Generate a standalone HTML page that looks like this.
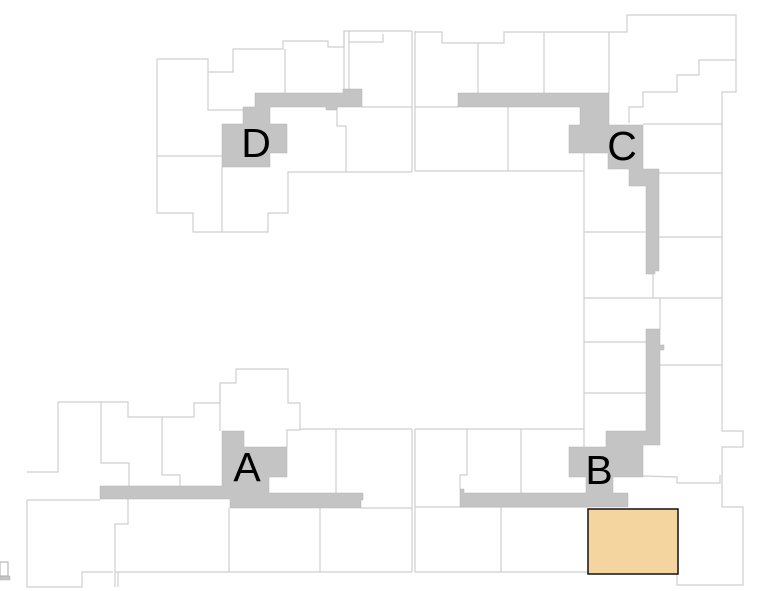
<!DOCTYPE html>
<html><head><meta charset="utf-8"><style>
html,body{margin:0;padding:0;background:#fff;}
svg{display:block}
text{font-family:"Liberation Sans",sans-serif;font-size:41px;fill:#000;}
</style></head><body>
<svg width="759" height="591" viewBox="0 0 759 591" xmlns="http://www.w3.org/2000/svg">
<g fill="none" stroke="#cfcfcf" stroke-width="1.2">
<!-- D quadrant -->
<polyline points="157,59 208,59 208,110 243,110"/>
<polyline points="157,59 157,213 193,213 193,232 268,232 268,213 288,213 288,172 412,172"/>
<line x1="157" y1="156" x2="222" y2="156"/>
<line x1="222" y1="167" x2="222" y2="232"/>
<polyline points="208,72 233,72 233,49 283,49 283,41 328,41 328,47 344,47 344,31 412,31"/>
<line x1="344" y1="31" x2="344" y2="89"/>
<line x1="349" y1="31" x2="349" y2="89"/>
<polyline points="349,42 383,42 383,34"/>
<line x1="285" y1="49" x2="285" y2="93"/>
<line x1="362" y1="107" x2="412" y2="107"/>
<polyline points="337,107 337,126 346,126 346,172"/>
<line x1="412" y1="31" x2="412" y2="172"/>
<line x1="415" y1="31" x2="415" y2="171"/>
<line x1="412" y1="429" x2="412" y2="572"/>
<line x1="415" y1="429" x2="415" y2="572"/>
<!-- C quadrant -->
<polyline points="415,32 442,32 442,43 504,43 504,32 627,32 627,15 736,15 736,92 722,92 722,431 743,431 743,447 722,447 722,507 743,507 743,585 677,585 677,574"/>
<line x1="478" y1="43" x2="478" y2="93"/>
<line x1="544" y1="32" x2="544" y2="93"/>
<line x1="609" y1="32" x2="609" y2="93"/>
<polyline points="629,123 629,107 643,107 643,92 677,92 677,75 699,75 699,60 736,60"/>
<line x1="415" y1="107" x2="458" y2="107"/>
<line x1="415" y1="171" x2="584" y2="171"/>
<line x1="508" y1="107" x2="508" y2="171"/>
<line x1="584" y1="153" x2="584" y2="429"/>
<line x1="643" y1="124" x2="722" y2="124"/>
<line x1="659" y1="173" x2="722" y2="173"/>
<line x1="659" y1="237" x2="722" y2="237"/>
<line x1="584" y1="232" x2="646" y2="232"/>
<line x1="584" y1="298" x2="722" y2="298"/>
<line x1="653" y1="271" x2="653" y2="298"/>
<line x1="660" y1="298" x2="660" y2="329"/>
<!-- B quadrant -->
<line x1="584" y1="342" x2="646" y2="342"/>
<line x1="584" y1="393" x2="646" y2="393"/>
<line x1="660" y1="365" x2="722" y2="365"/>
<line x1="415" y1="429" x2="584" y2="429"/>
<line x1="584" y1="429" x2="584" y2="447"/>
<polyline points="467,429 467,475 460,475 460,489"/>
<line x1="521" y1="429" x2="521" y2="493"/>
<line x1="415" y1="507" x2="588" y2="507"/>
<line x1="501" y1="507" x2="501" y2="572"/>
<line x1="415" y1="572" x2="588" y2="572"/>
<polyline points="643,476 677,477 677,483 720,483 720,475"/>
<!-- A quadrant -->
<polyline points="27,500 27,587 82,587 82,572 113,572"/>
<polyline points="27,472 58,472 58,402 101,402 101,463 129,463 129,486"/>
<polyline points="101,402 128,402 128,417 162,417 162,475 180,475 180,486"/>
<polyline points="162,417 194,417 194,403 220,403 220,383 236,383 236,369 288,369 288,403 300,403 300,430 287,430 287,447"/>
<line x1="220" y1="383" x2="220" y2="431"/>
<line x1="300" y1="429" x2="412" y2="429"/>
<line x1="336" y1="429" x2="336" y2="493"/>
<line x1="27" y1="500" x2="100" y2="500"/>
<line x1="361" y1="508" x2="412" y2="508"/>
<line x1="115" y1="572" x2="412" y2="572"/>
<line x1="229" y1="508" x2="229" y2="572"/>
<line x1="320" y1="508" x2="320" y2="572"/>
<polyline points="128,499 128,524 115,524 115,587"/>
<line x1="118" y1="572" x2="118" y2="587"/>
</g>
<g fill="#c4c4c4" stroke="#b4b4b4" stroke-width="0.5">
<polygon points="255,93 343,93 343,89 362,89 362,107 337,107 337,110 326,110 326,107 270,107 270,124 287,124 287,153 270,153 270,167 222,167 222,124 243,124 243,107 255,107"/>
<polygon points="458,93 609,93 609,125 643,125 643,169 659,169 659,271 655,271 655,274 646,274 646,186 629,186 629,169 608,169 608,153 569,153 569,125 580,125 580,107 458,107"/>
<polygon points="646,329 660,329 660,345 664,345 664,350 660,350 660,445 643,445 643,477 613,477 613,493 628,493 628,507 460,507 460,489 464,489 464,493 586,493 586,477 569,477 569,447 606,447 606,431 646,431"/>
<polygon points="222,431 244,431 244,447 287,447 287,477 269,477 269,493 363,493 363,500 361,500 361,508 230,508 230,499 100,499 100,486 222,486"/>
<rect x="0" y="576" width="10" height="4"/>
</g>
<rect x="0" y="562" width="8" height="14" fill="none" stroke="#aaa" stroke-width="1"/>
<rect x="588" y="509" width="90" height="65" fill="#f5d59f" stroke="#111" stroke-width="1.5"/>
<text x="256" y="157" text-anchor="middle">D</text>
<text x="622" y="160" text-anchor="middle">C</text>
<text x="599" y="484" text-anchor="middle">B</text>
<text x="247" y="481" text-anchor="middle">A</text>
</svg>
</body></html>
